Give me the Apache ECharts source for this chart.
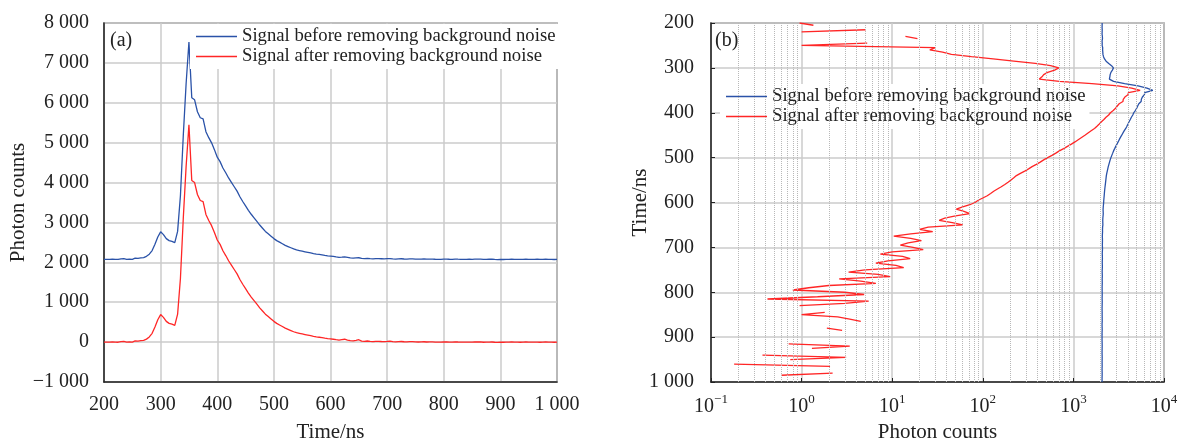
<!DOCTYPE html>
<html>
<head>
<meta charset="utf-8">
<script src="https://cdn.jsdelivr.net/npm/echarts@6/dist/echarts.min.js"></script>
<style>
html,body{margin:0;padding:0;background:#fff;}
#chart{width:1179px;height:443px;}
</style>
</head>
<body>
<div id="chart"></div>
<script>
// ---- data (time in ns, photon counts) ----
const times = [
  200,205,210,215,220,225,230,235,240,245,
  250,255,260,265,270,275,280,285,290,295,
  300,305,310,315,320,325,330,335,340,345,
  350,355,360,365,370,375,380,385,390,395,
  400,405,410,415,420,425,430,435,440,445,
  450,455,460,465,470,475,480,485,490,495,
  500,505,510,515,520,525,530,535,540,545,
  550,555,560,565,570,575,580,585,590,595,
  600,605,610,615,620,625,630,635,640,645,
  650,655,660,665,670,675,680,685,690,695,
  700,705,710,715,720,725,730,735,740,745,
  750,755,760,765,770,775,780,785,790,795,
  800,805,810,815,820,825,830,835,840,845,
  850,855,860,865,870,875,880,885,890,895,
  900,905,910,915,920,925,930,935,940,945,
  950,955,960,965,970,975,980,985,990,995,
  1000
];
const signalBefore = [
  2076,2076,2073,2080,2076,2072,2089,2094,2073,2080,
  2076,2105,2101,2111,2120,2150,2205,2295,2455,2635,
  2765,2695,2595,2545,2525,2495,2775,3675,5175,6475,
  7525,6125,6075,5775,5625,5595,5275,5125,4995,4825,
  4635,4525,4365,4245,4115,4005,3895,3785,3645,3525,
  3415,3305,3205,3115,3025,2935,2855,2775,2715,2655,
  2595,2545,2505,2465,2425,2395,2365,2335,2310,2295,
  2280,2265,2250,2235,2220,2207,2197,2187,2175,2164,
  2157,2147,2135,2126,2130,2135,2125,2113,2108,2112,
  2115,2100,2095,2098,2091,2085,2091,2093,2090,2087,
  2092,2094,2085,2082,2088,2090,2084,2082,2086,2088,
  2080,2078,2082,2085,2078,2080,2082,2077,2076,2076,
  2078,2080,2077,2075,2081,2078,2076,2073,2074,2077,
  2076,2078,2078,2080,2072,2073,2077,2078,2072,2070,
  2073,2071,2074,2076,2078,2076,2073,2072,2075,2078,
  2076,2074,2075,2077,2072,2073,2077,2076,2073,2071,
  2074
];
const signalAfter = [
  0.95,1.35,-2,5.1,1.0,-3,14,19,-2,5.3,
  1.0,30,26,36,45,75,130,220,380,560,
  690,620,520,470,450,420,700,1600,3100,4400,
  5450,4050,4000,3700,3550,3520,3200,3050,2920,2750,
  2560,2450,2290,2170,2040,1930,1820,1710,1570,1450,
  1340,1230,1130,1040,950,860,780,700,640,580,
  520,470,430,390,350,320,290,260,235,220,
  205,190,175,160,145,132,122,112,100,89,
  82,72,60,51,62,72,50,38,33,46,
  60,25,20,28,16,10.4,16,21,15,12.3,
  17,22,10,7.4,13,15.8,9,6.6,11,13.4,
  5,3.3,7,9.5,2.6,4.5,6.6,2,1.2,0.8,
  3,4.9,1.5,0.42,5.5,3,0.95,-2,-1,1.8,
  1.0,2.5,3.4,4.5,-3,-2,1.9,2.8,-3,-5,
  -2,-4,-1,0.72,3.4,1.3,-2,-3,0.37,3.1,
  0.75,-1,0.18,2.06,-3,-2,2.2,0.6,-2,-4,
  -1
];
const nameBefore = 'Signal before removing background noise';
const nameAfter = 'Signal after removing background noise';
const minorLogTicks = [
  0.2,0.3,0.4,0.5,0.6,0.7,0.8,0.9,
  2,3,4,5,6,7,8,9,
  20,30,40,50,60,70,80,90,
  200,300,400,500,600,700,800,900,
  2000,3000,4000,5000,6000,7000,8000,9000
];

const FONT = '"Liberation Serif", "DejaVu Serif", serif';
const BLUE = '#2a52a8';
const RED = '#ff2626';
const TXT = '#222';

function thousands(v) {
  const s = String(Math.abs(v)).replace(/\B(?=(\d{3})+(?!\d))/g, ' ');
  return v < 0 ? '\u2212' + s : s;
}
function logLabel(v) {
  const e = Math.round(Math.log10(v));
  return '{b|10}{s|' + (e < 0 ? '\u2212' + (-e) : e) + '}';
}

const leftBefore = times.map((t, i) => [t, signalBefore[i]]);
const leftAfter = times.map((t, i) => [t, signalAfter[i]]);
const rightBefore = times.map((t, i) => [signalBefore[i] > 0 ? signalBefore[i] : '-', t]);
const rightAfter = times.map((t, i) => [signalAfter[i] > 0 ? signalAfter[i] : '-', t]);

const gridLine = { lineStyle: { color: '#cbcbcb', width: 1.5 } };
const axisLineStyle = { onZero: false, lineStyle: { color: TXT, width: 1.5 } };
const nameStyle = { fontSize: 21, color: TXT, fontFamily: FONT };
const legendText = { fontSize: 18.7, lineHeight: 18, color: TXT, fontFamily: FONT };

const chart = echarts.init(document.getElementById('chart'), null, { renderer: 'canvas' });
chart.setOption({
  animation: false,
  backgroundColor: '#fff',
  textStyle: { fontFamily: FONT },
  grid: [
    { left: 104, top: 23, width: 453, height: 359, show: true, borderColor: '#333', borderWidth: 1.2, backgroundColor: 'transparent', outerBoundsMode: 'none', containLabel: false },
    { left: 711, top: 23, width: 453, height: 359, show: true, borderColor: '#333', borderWidth: 1.2, backgroundColor: 'transparent', outerBoundsMode: 'none', containLabel: false }
  ],
  xAxis: [
    {
      gridIndex: 0, type: 'value', min: 200, max: 1000, interval: 100,
      name: 'Time/ns', nameLocation: 'middle', nameGap: 40, nameMoveOverlap: false,
      nameTextStyle: nameStyle,
      axisLine: axisLineStyle, axisTick: { show: false },
      axisLabel: { fontSize: 20, color: TXT, margin: 13, fontFamily: FONT, formatter: thousands },
      splitLine: gridLine
    },
    {
      gridIndex: 1, type: 'log', logBase: 10, min: 0.1, max: 10000,
      name: 'Photon counts', nameLocation: 'middle', nameGap: 40, nameMoveOverlap: false,
      nameTextStyle: nameStyle,
      axisLine: axisLineStyle, axisTick: { show: true, inside: true, length: 4, lineStyle: { color: TXT } },
      axisLabel: {
        color: TXT, margin: 11, formatter: logLabel,
        rich: {
          b: { fontSize: 20, fontFamily: FONT, color: TXT, verticalAlign: 'bottom', lineHeight: 24 },
          s: { fontSize: 13, fontFamily: FONT, color: TXT, verticalAlign: 'top', lineHeight: 24 }
        }
      },
      splitLine: gridLine
    }
  ],
  yAxis: [
    {
      gridIndex: 0, type: 'value', min: -1000, max: 8000, interval: 1000,
      name: 'Photon counts', nameLocation: 'middle', nameGap: 75, nameMoveOverlap: false,
      nameTextStyle: nameStyle,
      axisLine: axisLineStyle, axisTick: { show: false },
      axisLabel: { fontSize: 20, color: TXT, margin: 15, fontFamily: FONT, formatter: thousands },
      splitLine: gridLine
    },
    {
      gridIndex: 1, type: 'value', min: 200, max: 1000, interval: 100, inverse: true,
      name: 'Time/ns', nameLocation: 'middle', nameGap: 60, nameMoveOverlap: false,
      nameTextStyle: nameStyle,
      axisLine: axisLineStyle, axisTick: { show: true, inside: true, length: 4, lineStyle: { color: TXT } },
      axisLabel: { fontSize: 20, color: TXT, margin: 17, fontFamily: FONT, formatter: thousands },
      splitLine: gridLine
    }
  ],
  legend: [
    {
      left: 190, top: 24, orient: 'vertical', itemGap: 1,
      backgroundColor: '#fff', padding: [3, 4, 3, 6],
      icon: 'rect', itemWidth: 41, itemHeight: 1.6,
      textStyle: legendText,
      data: [nameBefore, nameAfter], selectedMode: false
    },
    {
      left: 720, top: 84, orient: 'vertical', itemGap: 1,
      backgroundColor: '#fff', padding: [3, 4, 3, 6],
      icon: 'rect', itemWidth: 41, itemHeight: 1.6,
      textStyle: legendText,
      data: [nameBefore, nameAfter], selectedMode: false
    }
  ],
  graphic: [
    { type: 'text', left: 110, top: 31, style: { text: '(a)', fontSize: 20, fontFamily: FONT, fill: TXT } },
    { type: 'text', left: 715, top: 31, style: { text: '(b)', fontSize: 20, fontFamily: FONT, fill: TXT } }
  ],
  series: [
    {
      name: 'minor', type: 'line', xAxisIndex: 1, yAxisIndex: 1, data: [], z: 1, silent: true,
      markLine: {
        silent: true, symbol: ['none', 'none'], label: { show: false }, animation: false,
        lineStyle: { type: 'dotted', color: '#b8b8b8', width: 1 },
        data: minorLogTicks.map(v => ({ xAxis: v }))
      }
    },
    { name: nameBefore, type: 'line', xAxisIndex: 0, yAxisIndex: 0, data: leftBefore, showSymbol: false, lineStyle: { color: BLUE, width: 1.3 }, itemStyle: { color: BLUE }, z: 3 },
    { name: nameAfter, type: 'line', xAxisIndex: 0, yAxisIndex: 0, data: leftAfter, showSymbol: false, lineStyle: { color: RED, width: 1.3 }, itemStyle: { color: RED }, z: 3 },
    { name: nameBefore, type: 'line', xAxisIndex: 1, yAxisIndex: 1, data: rightBefore, showSymbol: false, connectNulls: false, lineStyle: { color: BLUE, width: 1.3 }, itemStyle: { color: BLUE }, z: 3 },
    { name: nameAfter, type: 'line', xAxisIndex: 1, yAxisIndex: 1, data: rightAfter, showSymbol: false, connectNulls: false, lineStyle: { color: RED, width: 1.3 }, itemStyle: { color: RED }, z: 3 }
  ]
});
</script>
</body>
</html>
